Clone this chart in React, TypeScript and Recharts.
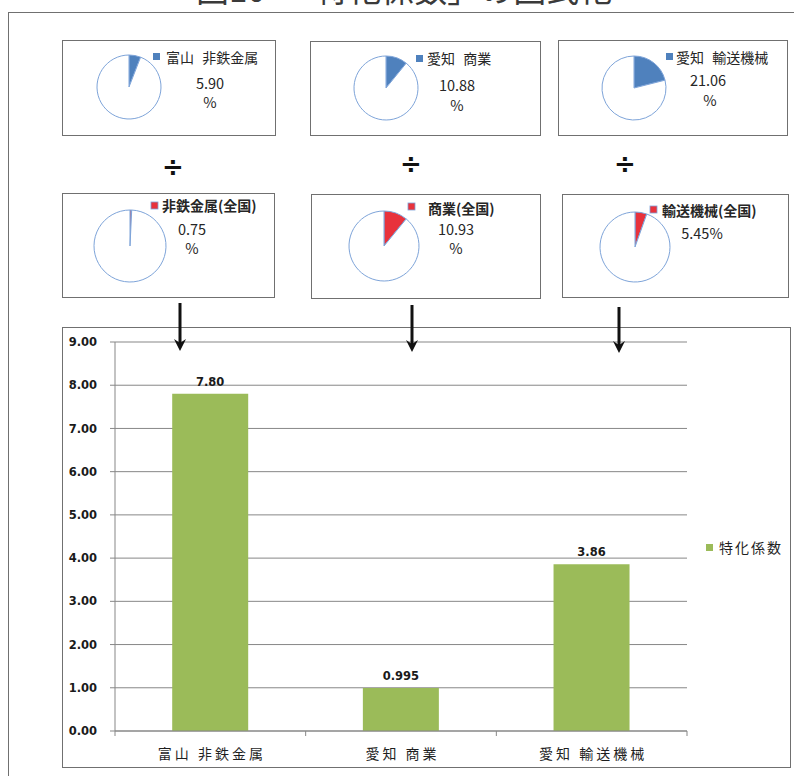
import React from 'react';
import {
  PieChart,
  Pie,
  Cell,
  BarChart,
  Bar,
  XAxis,
  YAxis,
  CartesianGrid,
  LabelList,
  Legend,
} from 'recharts';

// 各県の業種構成比（%）
const regionIndustries = ['富山 非鉄金属', '愛知 商業', '愛知 輸送機械'];
const regionShares = [5.9, 10.88, 21.06];

// 全国の業種構成比（%）
const nationalIndustries = ['非鉄金属(全国)', '商業(全国)', '輸送機械(全国)'];
const nationalShares = [0.75, 10.93, 5.45];

// 特化係数 = 県の構成比 ÷ 全国の構成比
const coefficients = [7.8, 0.995, 3.86];
const seriesName = '特化係数';
const yTicks = [0, 1, 2, 3, 4, 5, 6, 7, 8, 9];

const titleText = '図10　「特化係数」の図式化';

const CJK = '"Noto Sans CJK JP", "Noto Sans", sans-serif';
const BOLD_NUM = '"DejaVu Sans", Verdana, sans-serif';
const BLUE = '#4f81bd';
const RED = '#e8323c';
const GREEN = '#9bbb59';
const PIE_EDGE = '#7ea4d9';
const GRID = '#878787';
const BORDER = '#707070';

const barData = regionIndustries.map((name, i) => ({ name, value: coefficients[i] }));

// 値ラベル: 小数2桁以上で表示
const fmt = (v: number) => {
  const d = (String(v).split('.')[1] || '').length;
  return v.toFixed(Math.max(2, d));
};

type PanelLayout = {
  box: [number, number, number, number];
  cx: number;
  cy: number;
  r: number;
  sq: [number, number];
  text: [number, number];
  val: [number, number];
  pct: [number, number] | null;
};

const topLayout: PanelLayout[] = [
  { box: [62, 40, 214, 96], cx: 129, cy: 87, r: 32, sq: [153, 53], text: [166, 57], val: [210, 82], pct: [210, 101] },
  { box: [310, 41, 231, 95], cx: 386, cy: 88, r: 32, sq: [416, 55], text: [427, 58], val: [457, 84], pct: [457, 104] },
  { box: [558, 40, 230, 96], cx: 634, cy: 88, r: 32, sq: [666, 53], text: [676, 57], val: [708, 79], pct: [710, 99] },
];

const bottomLayout: PanelLayout[] = [
  { box: [62, 193, 213, 105], cx: 130, cy: 246, r: 36, sq: [151, 202], text: [162, 205], val: [192, 228], pct: [192, 247] },
  { box: [311, 194, 230, 105], cx: 384, cy: 246, r: 35, sq: [408, 203], text: [428, 208], val: [456, 228], pct: [456, 247] },
  { box: [562, 194, 227, 104], cx: 635, cy: 247, r: 35, sq: [650, 206], text: [662, 210], val: [702, 232], pct: null },
];

const divideSigns: [number, number][] = [
  [173, 167],
  [411, 164],
  [625, 164],
];

const arrows: [number, number, number][] = [
  [180, 303, 351],
  [412, 305, 352],
  [619, 307, 353],
];

function SharePie({ share, color, layout }: { share: number; color: string; layout: PanelLayout }) {
  const [left, top, w, h] = layout.box;
  const data = [
    { name: 'share', value: share },
    { name: 'rest', value: 100 - share },
  ];
  return (
    <div style={{ position: 'absolute', left, top, width: w, height: h }}>
      <PieChart width={w} height={h} margin={{ top: 0, right: 0, bottom: 0, left: 0 }}>
        <Pie
          data={data}
          dataKey="value"
          cx={layout.cx - left}
          cy={layout.cy - top}
          outerRadius={layout.r}
          startAngle={90}
          endAngle={-270}
          stroke={PIE_EDGE}
          strokeWidth={1}
          isAnimationActive={false}
        >
          <Cell fill={color} />
          <Cell fill="#ffffff" />
        </Pie>
      </PieChart>
    </div>
  );
}

function PanelText({ layout, label, share, color, bold }: { layout: PanelLayout; label: string; share: number; color: string; bold: boolean }) {
  const valueText = layout.pct ? share.toFixed(2) : `${share.toFixed(2)}%`;
  return (
    <g>
      <rect x={layout.sq[0]} y={layout.sq[1]} width={7} height={7} fill={color} stroke={color === RED ? PIE_EDGE : 'none'} strokeWidth={0.8} />
      <text
        x={layout.text[0]}
        y={layout.text[1]}
        dominantBaseline="central"
        fontFamily={CJK}
        fontSize={14}
        fontWeight={bold ? 700 : 400}
        wordSpacing={5}
        fill="#262626"
      >
        {label}
      </text>
      <text x={layout.val[0]} y={layout.val[1]} dominantBaseline="central" textAnchor="middle" fontFamily={CJK} fontSize={14.5} fill="#262626">
        {valueText}
      </text>
      {layout.pct && (
        <text x={layout.pct[0]} y={layout.pct[1]} dominantBaseline="central" textAnchor="middle" fontFamily={CJK} fontSize={14.5} fill="#262626">
          %
        </text>
      )}
    </g>
  );
}

// 区切り目盛り付きのカテゴリ軸ラベル
function CategoryTick(props: any) {
  const { x, y, payload, index, visibleTicksCount } = props;
  const half = payload && typeof payload.offset === 'number' ? payload.offset : 0;
  const axisY = y - 5;
  const isLast = index === visibleTicksCount - 1;
  return (
    <g>
      <line x1={x - half} x2={x - half} y1={axisY} y2={axisY + 5} stroke={GRID} />
      {isLast && <line x1={x + half} x2={x + half} y1={axisY} y2={axisY + 5} stroke={GRID} />}
      <text x={x + 1.5} y={axisY + 28} textAnchor="middle" fontFamily={CJK} fontSize={14} letterSpacing={3} fill="#1f1f1f">
        {payload.value}
      </text>
    </g>
  );
}

function LegendContent(props: any) {
  const item = (props.payload && props.payload[0]) || { value: seriesName, color: GREEN };
  return (
    <div style={{ display: 'flex', alignItems: 'center', paddingLeft: 19, height: 20 }}>
      <span style={{ display: 'inline-block', width: 7, height: 7, background: item.color, marginRight: 6 }} />
      <span style={{ fontFamily: CJK, fontSize: 14, letterSpacing: 2, color: '#1f1f1f', whiteSpace: 'nowrap' }}>{item.value}</span>
    </div>
  );
}

export default function App() {
  return (
    <div style={{ position: 'relative', width: 794, height: 776, overflow: 'hidden', background: '#ffffff' }}>
      <style>{'body{margin:0;background:#fff;}'}</style>

      {/* 外枠 */}
      <div style={{ position: 'absolute', left: 8, top: 12, width: 820, height: 820, border: `1px solid ${BORDER}` }} />

      {/* パネル枠 */}
      {[...topLayout, ...bottomLayout].map((l, i) => (
        <div
          key={`box-${i}`}
          style={{
            position: 'absolute',
            left: l.box[0],
            top: l.box[1],
            width: l.box[2],
            height: l.box[3],
            border: `1px solid ${BORDER}`,
            boxSizing: 'border-box',
            background: '#ffffff',
          }}
        />
      ))}

      {topLayout.map((l, i) => (
        <SharePie key={`tp-${i}`} share={regionShares[i]} color={BLUE} layout={l} />
      ))}
      {bottomLayout.map((l, i) => (
        <SharePie key={`bp-${i}`} share={nationalShares[i]} color={RED} layout={l} />
      ))}

      {/* 特化係数の棒グラフ */}
      <div
        style={{
          position: 'absolute',
          left: 62,
          top: 327,
          width: 729,
          height: 441,
          border: `1px solid ${BORDER}`,
          boxSizing: 'border-box',
          background: '#ffffff',
        }}
      />
      <div style={{ position: 'absolute', left: 62, top: 327 }}>
        <BarChart width={728} height={440} data={barData} margin={{ top: 15, right: 7, bottom: 0, left: 0 }} barCategoryGap="30%">
          <CartesianGrid vertical={false} stroke={GRID} />
          <XAxis
            dataKey="name"
            height={36}
            tickSize={5}
            tickMargin={0}
            tickLine={false}
            interval={0}
            axisLine={{ stroke: GRID }}
            tick={<CategoryTick />}
          />
          <YAxis
            width={53}
            domain={[0, 9]}
            ticks={yTicks}
            interval={0}
            tickFormatter={(v: number) => v.toFixed(2)}
            tickSize={5}
            tickMargin={13}
            axisLine={{ stroke: GRID }}
            tickLine={{ stroke: GRID }}
            tick={{ fontSize: 11.5, fontWeight: 700, fill: '#1a1a1a', fontFamily: BOLD_NUM }}
          />
          <Legend layout="vertical" align="right" verticalAlign="middle" width={96} content={<LegendContent />} />
          <Bar dataKey="value" name={seriesName} fill={GREEN} isAnimationActive={false}>
            <LabelList
              dataKey="value"
              position="top"
              offset={8}
              formatter={(v: any) => fmt(Number(v))}
              style={{ fontSize: 11.5, fontWeight: 700, fill: '#1a1a1a', fontFamily: BOLD_NUM }}
            />
          </Bar>
        </BarChart>
      </div>

      {/* 注記・記号 */}
      <svg width={794} height={776} style={{ position: 'absolute', left: 0, top: 0, pointerEvents: 'none' }}>
        <text x={196} y={2} fontFamily={CJK} fontSize={33} fill="#3a3a3a">
          {titleText}
        </text>
        {topLayout.map((l, i) => (
          <PanelText key={`tt-${i}`} layout={l} label={regionIndustries[i]} share={regionShares[i]} color={BLUE} bold={false} />
        ))}
        {bottomLayout.map((l, i) => (
          <PanelText key={`bt-${i}`} layout={l} label={nationalIndustries[i]} share={nationalShares[i]} color={RED} bold={true} />
        ))}
        {divideSigns.map(([x, y], i) => (
          <text key={`div-${i}`} x={x} y={y} textAnchor="middle" dominantBaseline="central" fontFamily={BOLD_NUM} fontWeight={700} fontSize={26} fill="#111">
            ÷
          </text>
        ))}
        {arrows.map(([x, y1, y2], i) => (
          <g key={`arrow-${i}`}>
            <line x1={x} x2={x} y1={y1} y2={y2 - 6} stroke="#111" strokeWidth={3} />
            <polygon points={`${x},${y2} ${x - 6},${y2 - 12} ${x},${y2 - 8} ${x + 6},${y2 - 12}`} fill="#111" />
          </g>
        ))}
      </svg>
    </div>
  );
}
